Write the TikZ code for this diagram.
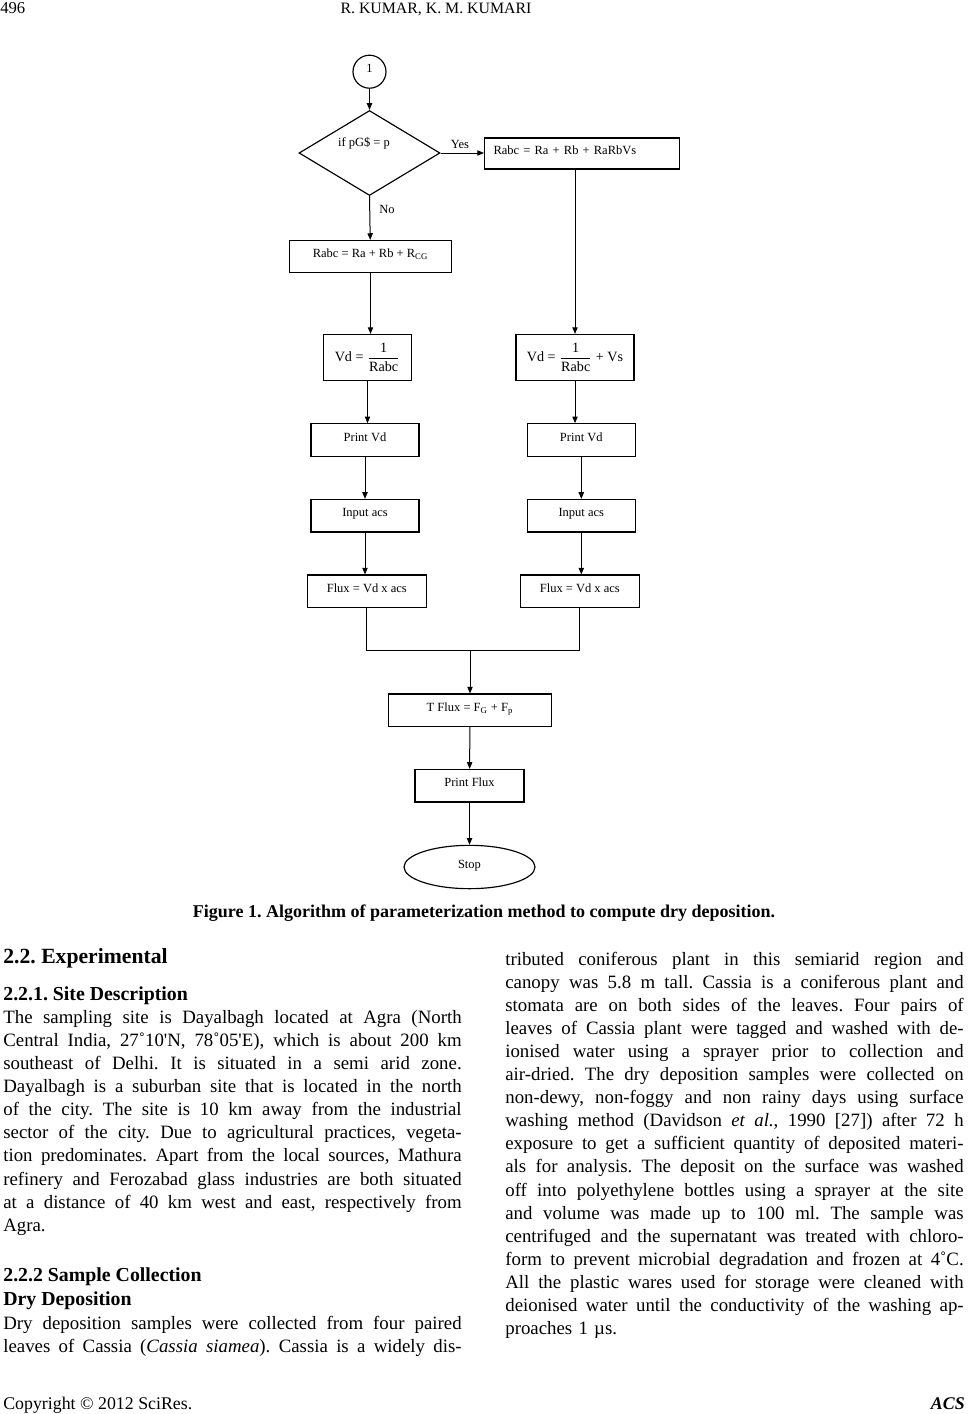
\documentclass[tikz,border=0pt]{standalone}
\usepackage{fontspec}
\setmainfont{Liberation Serif}
\usepackage{amsmath}
\usetikzlibrary{shapes.geometric,arrows.meta,positioning}

% one justified line of a column, and a last line
\newlength\colw
\setlength\colw{275pt}
\newcommand\jl[1]{\hbox to\colw{\spaceskip=0.25em plus 1em minus 0.03em\relax #1}}
\newcommand\lastl[1]{\hbox{#1}}
\frenchspacing

\begin{document}
\begin{tikzpicture}[x=0.6pt, y=-0.6pt,
  flow/.style={draw, line width=0.7pt, inner sep=0pt, font=\fontsize{7.5}{9}\selectfont,
    text height=5.5pt, text depth=4pt},
  pbox/.style={flow, rectangle, minimum width=#1*0.6pt, minimum height=19.5pt},
  vbox/.style={flow, rectangle, minimum width=#1*0.6pt, minimum height=27.6pt,
    font=\fontsize{8.5}{10}\selectfont, text height=, text depth=},
  arr/.style={-{Triangle[length=4pt, width=3.2pt]}, line width=0.6pt},
  body/.style={anchor=base west, inner sep=0pt, text width=\colw,
    font=\fontsize{11.3}{13.86}\selectfont},
  head/.style={anchor=base west, inner sep=0pt, font=\fontsize{11.9}{14}\selectfont\bfseries}
]
  \useasboundingbox (0,0) rectangle (969,1414);

  % Page head
  \node[anchor=base west, inner sep=0pt, font=\fontsize{10}{12}\selectfont] (pagenum) at (0,13.5) {496};
  \node[anchor=base, inner sep=0pt, font=\fontsize{9.5}{12}\selectfont] (authors) at (436,13.5) {R. KUMAR, K. M. KUMARI};

  % Start and decision
  \node[flow, circle, minimum size=19.8pt] (start) at (369.5,71.7) {1};
  \node[flow, diamond, minimum width=84.6pt, minimum height=51pt] (dec) at (369.5,153) {};
  \node[font=\fontsize{7.5}{9}\selectfont, inner sep=0pt] (ifp) at (364,143) {if pG\$ = p};
  \node[flow, rectangle, anchor=west, align=left, text width=106.2pt, inner xsep=5.4pt,
    minimum height=18.6pt] (rabcY) at (484,153.5) {Rabc = Ra + Rb + RaRbVs};
  \node[flow, rectangle, minimum width=97.2pt, minimum height=19.2pt] (rabcN) at (370.5,256.5)
    {Rabc = Ra + Rb + R\textsubscript{CG}};

  \node[font=\fontsize{7.5}{9}\selectfont, inner sep=0pt] (yes) at (460,144) {Yes};
  \node[font=\fontsize{7.5}{9}\selectfont, inner sep=0pt] (no) at (387,209) {No};

  % Deposition velocity
  \node[vbox=88] (vdL) at (367.5,357.5) {Vd = $\dfrac{\text{1}}{\text{Rabc}}$};
  \node[vbox=118] (vdR) at (575,357.5) {Vd = $\dfrac{\text{1}}{\text{Rabc}}$ + Vs};

  % Both branches
  \foreach \s/\x in {L/365, R/581.3} {
    \node[pbox=108] (pv\s) at (\x,440) {Print Vd};
    \node[pbox=108] (in\s) at (\x,515.7) {Input acs};
  }
  \node[pbox=119] (fxL) at (366.8,591.3) {Flux = Vd x acs};
  \node[pbox=119] (fxR) at (579.8,591.3) {Flux = Vd x acs};

  % Total flux
  \coordinate (join) at (470,650.7);
  \node[pbox=163] (tflux) at (470,710.3) {T Flux = F\textsubscript{G} + F\textsubscript{p}};
  \node[pbox=109] (pflux) at (469.5,785.7) {Print Flux};
  \node[flow, ellipse, minimum width=78.6pt, minimum height=26pt] (stop) at (469.5,867) {Stop};

  % Connections
  \draw[arr] (start) -- (dec);
  \draw[arr] (dec.east) -- (rabcY.west |- dec.east);
  \draw[arr] (dec.south) -- (rabcN);
  \draw[arr] (rabcN.south) -- (rabcN.south |- vdL.north);
  \draw[arr] (vdR.north |- rabcY.south) -- (vdR.north);
  \foreach \s in {L,R} {
    \draw[arr] (vd\s.south) -- (vd\s.south |- pv\s.north);
    \draw[arr] (pv\s) -- (in\s);
    \draw[arr] (in\s.south) -- (in\s.south |- fx\s.north);
  }
  \draw[line width=0.6pt] (fxL.south) |- (join) -| (fxR.south);
  \draw[arr] (join) -- (tflux);
  \draw[arr] (tflux) -- (pflux);
  \draw[arr] (pflux) -- (stop);

  % Caption
  \node[anchor=base, inner sep=0pt, font=\fontsize{10.8}{12}\selectfont\bfseries] (caption) at (484,917)
    {Figure 1. Algorithm of parameterization method to compute dry deposition.};

  % Left column
  \node[anchor=base west, inner sep=0pt, font=\fontsize{13}{15}\selectfont\bfseries] (sec) at (3,963.3) {2.2. Experimental};
  \node[head] (site) at (3,1000) {2.2.1. Site Description};
  \node[body] (sitetext) at (3,1023.3) {%
    \jl{The sampling site is Dayalbagh located at Agra (North}
    \jl{Central India, 27˚10\textquotesingle N, 78˚05\textquotesingle E), which is about 200 km}
    \jl{southeast of Delhi. It is situated in a semi arid zone.}
    \jl{Dayalbagh is a suburban site that is located in the north}
    \jl{of the city. The site is 10 km away from the industrial}
    \jl{sector of the city. Due to agricultural practices, vegeta-}
    \jl{tion predominates. Apart from the local sources, Mathura}
    \jl{refinery and Ferozabad glass industries are both situated}
    \jl{at a distance of 40 km west and east, respectively from}
    \lastl{Agra.}};
  \node[head] (sample) at (3,1281.7) {2.2.2 Sample Collection};
  \node[head] (dry) at (3,1305) {Dry Deposition};
  \node[body, font=\fontsize{11.3}{14.04}\selectfont] (drytext) at (3,1329.3) {%
    \jl{Dry deposition samples were collected from four paired}
    \jl{leaves of Cassia (\textit{Cassia siamea}). Cassia is a widely dis-}};

  % Right column
  \node[body] (righttext) at (505,965) {%
    \jl{tributed coniferous plant in this semiarid region and}
    \jl{canopy was 5.8 m tall. Cassia is a coniferous plant and}
    \jl{stomata are on both sides of the leaves. Four pairs of}
    \jl{leaves of Cassia plant were tagged and washed with de-}
    \jl{ionised water using a sprayer prior to collection and}
    \jl{air-dried. The dry deposition samples were collected on}
    \jl{non-dewy, non-foggy and non rainy days using surface}
    \jl{washing method (Davidson \textit{et al.}, 1990 [27]) after 72 h}
    \jl{exposure to get a sufficient quantity of deposited materi-}
    \jl{als for analysis. The deposit on the surface was washed}
    \jl{off into polyethylene bottles using a sprayer at the site}
    \jl{and volume was made up to 100 ml. The sample was}
    \jl{centrifuged and the supernatant was treated with chloro-}
    \jl{form to prevent microbial degradation and frozen at 4˚C.}
    \jl{All the plastic wares used for storage were cleaned with}
    \jl{deionised water until the conductivity of the washing ap-}
    \lastl{proaches 1 µs.}};

  % Page foot
  \node[anchor=base west, inner sep=0pt, font=\fontsize{10.7}{12}\selectfont] (copy) at (3,1409) {Copyright © 2012 SciRes.};
  \node[anchor=base east, inner sep=0pt, font=\fontsize{10.7}{12}\selectfont\bfseries\itshape] (journal) at (965,1409) {ACS};
\end{tikzpicture}
\end{document}
